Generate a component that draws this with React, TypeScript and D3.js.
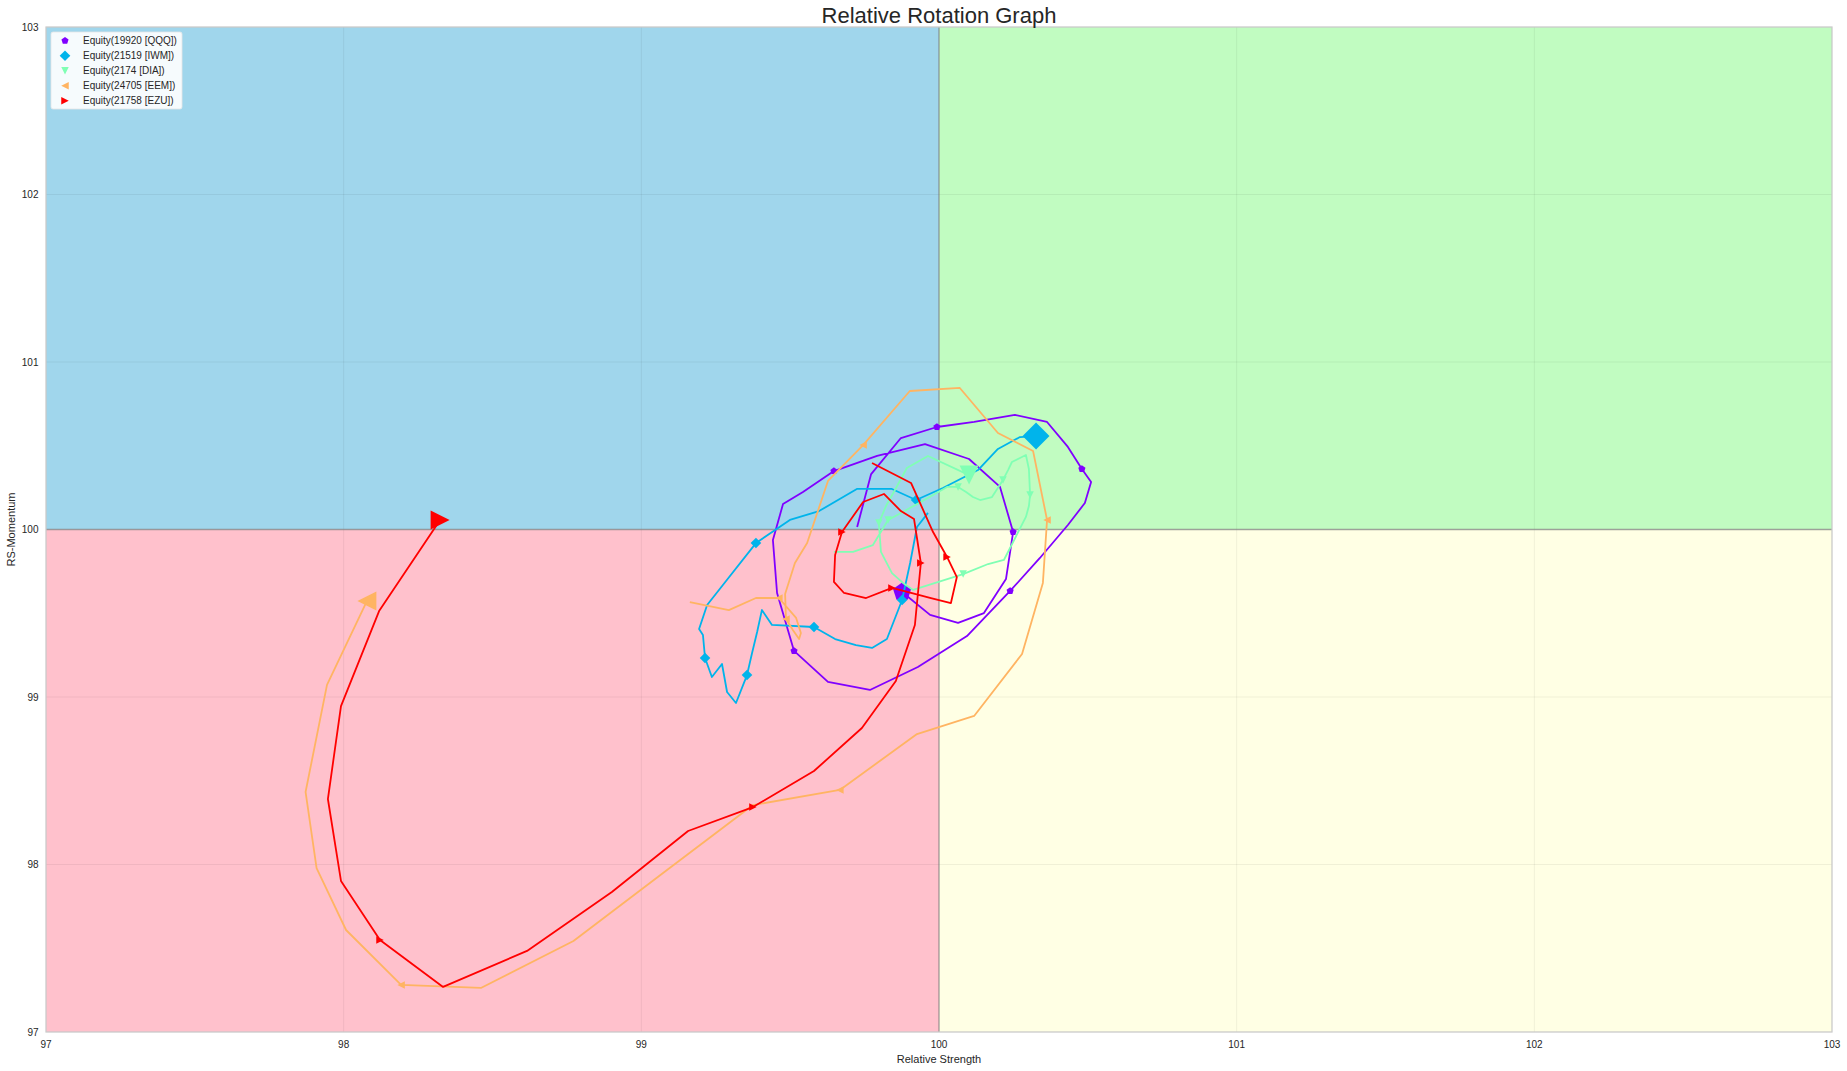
import React from 'react';
import * as d3 from 'd3';

// ---------- data ----------
const xTicks = [97, 98, 99, 100, 101, 102, 103];
const yTicks = [97, 98, 99, 100, 101, 102, 103];

const seriesNames = [
  'Equity(19920 [QQQ])',
  'Equity(21519 [IWM])',
  'Equity(2174 [DIA])',
  'Equity(24705 [EEM])',
  'Equity(21758 [EZU])',
];
const seriesColors = ['#8000ff', '#00b4eb', '#80ffb4', '#ffb462', '#ff0000'];
const seriesMarkers = ['pentagon', 'diamond', 'triangleDown', 'triangleLeft', 'triangleRight'];

const qqqRS = [99.725, 99.772, 99.872, 99.993, 100.118, 100.255, 100.363, 100.433, 100.480, 100.511, 100.490, 100.433, 100.339, 100.239, 100.094, 99.929, 99.768, 99.627, 99.513, 99.456, 99.442, 99.476, 99.543, 99.647, 99.792, 99.953, 100.101, 100.205, 100.249, 100.225, 100.151, 100.064, 99.970, 99.876];
const qqqMom = [100.015, 100.331, 100.546, 100.612, 100.642, 100.684, 100.642, 100.493, 100.361, 100.284, 100.158, 100.027, 99.830, 99.633, 99.364, 99.179, 99.042, 99.090, 99.275, 99.621, 99.937, 100.152, 100.224, 100.349, 100.439, 100.510, 100.421, 100.254, 99.985, 99.704, 99.501, 99.442, 99.490, 99.627];

const iwmRS = [99.963, 99.926, 99.903, 99.876, 99.825, 99.775, 99.721, 99.651, 99.580, 99.439, 99.405, 99.389, 99.372, 99.355, 99.318, 99.288, 99.271, 99.237, 99.214, 99.207, 99.194, 99.221, 99.274, 99.385, 99.499, 99.597, 99.724, 99.842, 99.923, 100.013, 100.131, 100.198, 100.272, 100.326];
const iwmMom = [100.099, 100.015, 99.800, 99.579, 99.346, 99.293, 99.310, 99.346, 99.418, 99.430, 99.519, 99.388, 99.263, 99.131, 98.964, 99.030, 99.197, 99.119, 99.233, 99.370, 99.406, 99.549, 99.669, 99.919, 100.057, 100.110, 100.242, 100.242, 100.176, 100.248, 100.355, 100.481, 100.552, 100.558];

const diaRS = [99.647, 99.711, 99.778, 99.829, 99.866, 99.896, 99.939, 100.027, 100.064, 100.091, 100.114, 100.138, 100.178, 100.215, 100.232, 100.245, 100.292, 100.302, 100.306, 100.302, 100.292, 100.218, 100.165, 100.081, 99.913, 99.879, 99.842, 99.805, 99.798, 99.822, 99.852, 99.892, 99.963, 100.101];
const diaMom = [99.866, 99.866, 99.907, 100.057, 100.093, 100.122, 100.164, 100.254, 100.254, 100.224, 100.194, 100.176, 100.194, 100.296, 100.355, 100.403, 100.445, 100.361, 100.206, 100.140, 100.075, 99.818, 99.794, 99.734, 99.639, 99.681, 99.740, 99.866, 100.039, 100.140, 100.236, 100.367, 100.439, 100.325];

const eemRS = [99.163, 99.294, 99.385, 99.462, 99.520, 99.536, 99.530, 99.509, 99.486, 99.483, 99.516, 99.557, 99.627, 99.745, 99.902, 100.070, 100.198, 100.316, 100.363, 100.349, 100.279, 100.118, 99.926, 99.667, 99.375, 99.073, 98.772, 98.461, 98.193, 98.008, 97.909, 97.872, 97.944, 98.078];
const eemMom = [99.567, 99.519, 99.591, 99.591, 99.472, 99.382, 99.346, 99.400, 99.466, 99.615, 99.800, 99.919, 100.290, 100.504, 100.827, 100.845, 100.576, 100.469, 100.057, 99.681, 99.257, 98.887, 98.779, 98.445, 98.355, 97.949, 97.543, 97.263, 97.281, 97.609, 97.979, 98.433, 99.072, 99.573];

const ezuRS = [99.775, 99.906, 99.980, 100.027, 100.060, 100.040, 99.973, 99.906, 99.842, 99.755, 99.681, 99.647, 99.651, 99.674, 99.745, 99.815, 99.872, 99.916, 99.939, 99.919, 99.855, 99.741, 99.580, 99.375, 99.157, 98.901, 98.616, 98.334, 98.122, 97.991, 97.947, 97.991, 98.119, 98.324];
const ezuMom = [100.397, 100.278, 99.985, 99.836, 99.716, 99.561, 99.591, 99.621, 99.651, 99.591, 99.621, 99.687, 99.848, 99.985, 100.164, 100.212, 100.110, 100.063, 99.800, 99.430, 99.096, 98.815, 98.558, 98.343, 98.200, 97.836, 97.484, 97.269, 97.549, 97.902, 98.391, 98.946, 99.513, 100.057];

const seriesRS = [qqqRS, iwmRS, diaRS, eemRS, ezuRS];
const seriesMom = [qqqMom, iwmMom, diaMom, eemMom, ezuMom];

// ---------- layout ----------
const W = 1847;
const H = 1071;
const plotLeft = 46;
const plotRight = 1832;
const plotTop = 27;
const plotBottom = 1032;
const FONT = '"Liberation Sans", Arial, "DejaVu Sans", sans-serif';

function markerPath(kind: string, size: number): string {
  const h = size / 2;
  if (kind === 'pentagon') {
    const pts = d3.range(5).map((i) => {
      const a = -Math.PI / 2 + (i * 2 * Math.PI) / 5;
      return [h * Math.cos(a), h * Math.sin(a)];
    });
    return 'M' + pts.map((p) => p[0].toFixed(2) + ',' + p[1].toFixed(2)).join('L') + 'Z';
  }
  if (kind === 'diamond') {
    const d = size * 0.7071;
    return `M0,${-d}L${d},0L0,${d}L${-d},0Z`;
  }
  if (kind === 'triangleDown') return `M0,${h}L${-h},${-h}L${h},${-h}Z`;
  if (kind === 'triangleLeft') return `M${-h},0L${h},${-h}L${h},${h}Z`;
  if (kind === 'triangleRight') return `M${h},0L${-h},${-h}L${-h},${h}Z`;
  return '';
}

export default function App() {
  const x = d3.scaleLinear().domain([97, 103]).range([plotLeft, plotRight]);
  const y = d3.scaleLinear().domain([97, 103]).range([plotBottom, plotTop]);
  const line = d3
    .line<[number, number]>()
    .x((d) => x(d[0]))
    .y((d) => y(d[1]));

  const quadrants = [
    { x0: 97, x1: 100, y0: 100, y1: 103, fill: '#a0d6ec' },
    { x0: 100, x1: 103, y0: 100, y1: 103, fill: '#c1fcc1' },
    { x0: 97, x1: 100, y0: 97, y1: 100, fill: '#ffc1cc' },
    { x0: 100, x1: 103, y0: 97, y1: 100, fill: '#ffffe4' },
  ];

  return (
    <svg
      width={W}
      height={H}
      style={{ position: 'absolute', left: 0, top: 0, background: '#ffffff' }}
      fontFamily={FONT}
    >
      <rect x={0} y={0} width={W} height={H} fill="#ffffff" />
      {quadrants.map((q, i) => (
        <rect
          key={i}
          x={x(q.x0)}
          y={y(q.y1)}
          width={x(q.x1) - x(q.x0)}
          height={y(q.y0) - y(q.y1)}
          fill={q.fill}
        />
      ))}
      {/* grid */}
      {xTicks.map((t) => (
        <line key={'gx' + t} x1={x(t)} x2={x(t)} y1={plotTop} y2={plotBottom} stroke="#000" strokeOpacity={0.06} strokeWidth={1} />
      ))}
      {yTicks.map((t) => (
        <line key={'gy' + t} x1={plotLeft} x2={plotRight} y1={y(t)} y2={y(t)} stroke="#000" strokeOpacity={0.06} strokeWidth={1} />
      ))}
      {/* center lines */}
      <line x1={x(100)} x2={x(100)} y1={plotTop} y2={plotBottom} stroke="#808080" strokeOpacity={0.7} strokeWidth={1.3} />
      <line x1={plotLeft} x2={plotRight} y1={y(100)} y2={y(100)} stroke="#808080" strokeOpacity={0.7} strokeWidth={1.3} />
      {/* spines */}
      <rect x={plotLeft} y={plotTop} width={plotRight - plotLeft} height={plotBottom - plotTop} fill="none" stroke="#cccccc" strokeWidth={1.25} />

      {/* series */}
      {seriesNames.map((name, si) => {
        const pts: [number, number][] = seriesRS[si].map((v, i) => [v, seriesMom[si][i]]);
        const n = pts.length;
        return (
          <g key={name}>
            <path d={line(pts) || ''} fill="none" stroke={seriesColors[si]} strokeWidth={1.8} strokeLinejoin="round" />
            {pts.map((p, i) => {
              const k = n - 1 - i;
              if (k % 5 !== 0) return null;
              const big = i === n - 1;
              return (
                <path
                  key={i}
                  d={markerPath(seriesMarkers[si], big ? 19 : 7.5)}
                  transform={`translate(${x(p[0])},${y(p[1])})`}
                  fill={seriesColors[si]}
                />
              );
            })}
          </g>
        );
      })}

      {/* ticks */}
      {xTicks.map((t) => (
        <text key={'tx' + t} x={x(t)} y={plotBottom + 15.5} textAnchor="middle" fontSize={10} fill="#262626">
          {t}
        </text>
      ))}
      {yTicks.map((t) => (
        <text key={'ty' + t} x={plotLeft - 7.5} y={y(t) + 3.5} textAnchor="end" fontSize={10} fill="#262626">
          {t}
        </text>
      ))}

      {/* axis labels */}
      <text x={(plotLeft + plotRight) / 2} y={1063} textAnchor="middle" fontSize={11} fill="#262626">
        Relative Strength
      </text>
      <text
        transform={`translate(15,${(plotTop + plotBottom) / 2}) rotate(-90)`}
        textAnchor="middle"
        fontSize={11}
        fill="#262626"
      >
        RS-Momentum
      </text>

      {/* title */}
      <text x={(plotLeft + plotRight) / 2} y={23} textAnchor="middle" fontSize={22} fill="#262626">
        Relative Rotation Graph
      </text>

      {/* legend */}
      <g>
        <rect x={51} y={32} width={131} height={77} fill="#ffffff" fillOpacity={0.9} stroke="#e6e6e6" strokeWidth={0.8} rx={2} />
        {seriesNames.map((name, si) => {
          const cy = 40.7 + si * 15;
          return (
            <g key={'lg' + si}>
              <path d={markerPath(seriesMarkers[si], 7.5)} transform={`translate(65,${cy})`} fill={seriesColors[si]} />
              <text x={83} y={cy + 3.5} fontSize={10} fill="#262626">
                {name}
              </text>
            </g>
          );
        })}
      </g>
    </svg>
  );
}
